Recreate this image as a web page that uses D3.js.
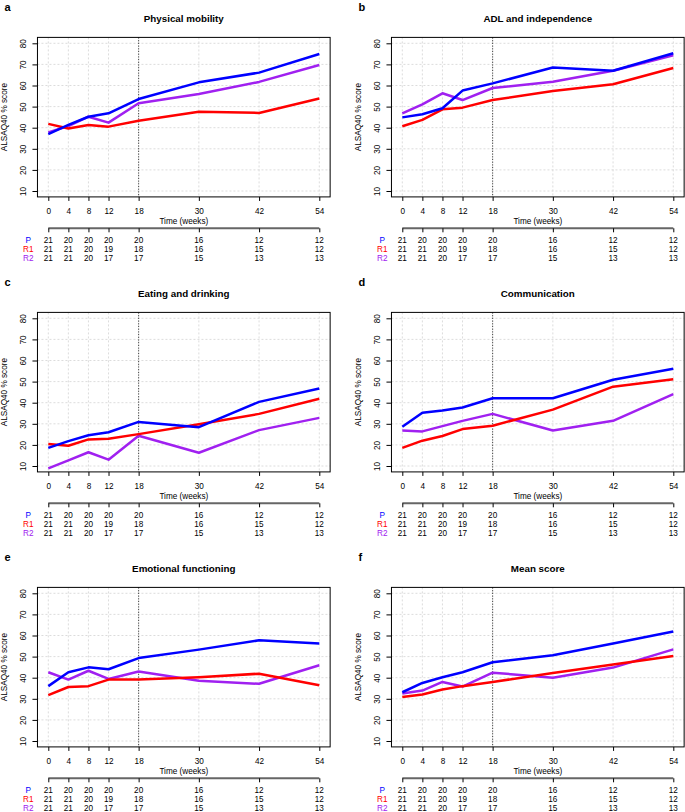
<!DOCTYPE html>
<html>
<head>
<meta charset="utf-8">
<script src="https://cdn.jsdelivr.net/npm/d3@7"></script>
<style>
  body { margin: 0; background: #fff; }
  svg { font-family: "Liberation Sans", Arial, sans-serif; }
</style>
</head>
<body>
<div id="chart"></div>
<script>
// time points (weeks)
const weeks = [0, 4, 8, 12, 18, 30, 42, 54];
const yTicks = [10, 20, 30, 40, 50, 60, 70, 80];

// numbers at risk
const groups = ["P", "R1", "R2"];
const atRiskP = [21, 20, 20, 20, 20, 16, 12, 12];
const atRiskR1 = [21, 21, 20, 19, 18, 16, 15, 12];
const atRiskR2 = [21, 21, 20, 17, 17, 15, 13, 13];

// a - physical mobility
const mobilityP = [37.0, 41.3, 45.2, 46.8, 53.6, 61.5, 66.1, 74.9];
const mobilityR1 = [41.8, 39.6, 41.3, 40.5, 43.3, 47.6, 47.0, 53.8];
const mobilityR2 = [37.8, 40.8, 45.2, 42.4, 51.6, 56.0, 61.7, 69.7];
// b - ADL and independence
const adlP = [44.9, 46.4, 49.2, 57.6, 61.0, 68.5, 67.0, 75.3];
const adlR1 = [40.7, 43.7, 48.7, 49.5, 53.1, 57.4, 60.6, 68.3];
const adlR2 = [46.8, 51.1, 56.3, 53.1, 58.8, 61.8, 67.0, 74.3];
// c - eating and drinking
const eatingP = [18.6, 21.8, 24.6, 26.0, 30.9, 28.4, 40.4, 46.7];
const eatingR1 = [20.4, 19.6, 22.6, 22.9, 25.1, 29.8, 34.7, 41.9];
const eatingR2 = [8.9, 12.7, 16.5, 13.0, 24.3, 16.3, 27.0, 32.8];
// d - communication
const commP = [28.6, 35.2, 36.3, 37.7, 42.1, 42.1, 50.9, 56.1];
const commR1 = [18.6, 22.0, 24.2, 27.5, 29.1, 36.7, 47.6, 51.1];
const commR2 = [26.8, 26.4, 28.9, 31.4, 34.7, 26.8, 31.4, 44.1];
// e - emotional functioning
const emoP = [36.0, 42.6, 44.9, 44.0, 49.3, 53.3, 57.7, 56.2];
const emoR1 = [31.7, 35.6, 36.0, 39.1, 39.1, 40.2, 41.9, 36.4];
const emoR2 = [42.6, 39.1, 43.3, 39.4, 42.9, 38.6, 37.1, 45.9];
// f - mean score
const meanP = [33.1, 37.5, 40.2, 42.6, 47.3, 50.6, 56.2, 61.9];
const meanR1 = [30.8, 32.0, 34.4, 36.0, 38.0, 42.2, 46.3, 50.3];
const meanR2 = [32.5, 33.9, 38.0, 35.8, 42.4, 40.0, 44.8, 53.4];

const panels = [
  {letter: "a", title: "Physical mobility", series: [mobilityR2, mobilityR1, mobilityP]},
  {letter: "b", title: "ADL and independence", series: [adlR2, adlR1, adlP]},
  {letter: "c", title: "Eating and drinking", series: [eatingR2, eatingR1, eatingP]},
  {letter: "d", title: "Communication", series: [commR2, commR1, commP]},
  {letter: "e", title: "Emotional functioning", series: [emoR2, emoR1, emoP]},
  {letter: "f", title: "Mean score", series: [meanR2, meanR1, meanP]}
];
const seriesColors = ["#A020F0", "#FF0000", "#0000FF"]; // R2, R1, P
const groupColors = {P: "#0000FF", R1: "#FF0000", R2: "#A020F0"};
const atRisk = {P: atRiskP, R1: atRiskR1, R2: atRiskR2};

const width = 685, height = 812;
const fs = 8.2;
const svg = d3.select("#chart").append("svg")
    .attr("width", width)
    .attr("height", height);

const xScale = d3.scaleLinear().domain([0, 54]).range([48.3, 319.3]);
const yScale = d3.scaleLinear().domain([10, 80]).range([191, 43.3]);
const boxL = xScale(-2.16), boxR = xScale(56.16);
const boxT = yScale(82.8), boxB = yScale(7.2);

const line = d3.line()
    .x(function(d, i) { return xScale(weeks[i]); })
    .y(function(d) { return yScale(d); });

panels.forEach(function(p, k) {
    const col = k % 2, row = Math.floor(k / 2);
    const g = svg.append("g")
        .attr("transform", `translate(${col * 354},${row * 275})`);

    // panel letter + title
    g.append("text").attr("x", 4.5).attr("y", 11)
        .attr("font-size", 11).attr("font-weight", "bold").text(p.letter);
    g.append("text").attr("x", (boxL + boxR) / 2).attr("y", 21.8)
        .attr("text-anchor", "middle").attr("font-size", 9.8)
        .attr("font-weight", "bold").text(p.title);

    // grid
    g.selectAll(".gx").data(weeks).enter().append("line")
        .attr("x1", d => xScale(d)).attr("x2", d => xScale(d))
        .attr("y1", boxT).attr("y2", boxB)
        .attr("stroke", "#d3d3d3").attr("stroke-width", 0.8)
        .attr("stroke-dasharray", "2,2");
    g.selectAll(".gy").data(yTicks).enter().append("line")
        .attr("x1", boxL).attr("x2", boxR)
        .attr("y1", d => yScale(d)).attr("y2", d => yScale(d))
        .attr("stroke", "#d3d3d3").attr("stroke-width", 0.8)
        .attr("stroke-dasharray", "2,2");

    // week 18 marker
    g.append("line")
        .attr("x1", xScale(18)).attr("x2", xScale(18))
        .attr("y1", boxT).attr("y2", boxB)
        .attr("stroke", "#444").attr("stroke-width", 1)
        .attr("stroke-dasharray", "1.2,1.5");

    // lines
    p.series.forEach(function(s, i) {
        g.append("path").datum(s)
            .attr("d", line)
            .attr("fill", "none")
            .attr("stroke", seriesColors[i])
            .attr("stroke-width", 2.5)
            .attr("stroke-linejoin", "round");
    });

    // box
    g.append("rect").attr("x", boxL).attr("y", boxT)
        .attr("width", boxR - boxL).attr("height", boxB - boxT)
        .attr("fill", "none").attr("stroke", "#000").attr("stroke-width", 1);

    // axes
    const xAxis = g.append("g")
        .attr("transform", `translate(0,${boxB})`)
        .call(d3.axisBottom(xScale).tickValues(weeks).tickSize(4).tickPadding(7));
    xAxis.select(".domain").remove();
    xAxis.selectAll("text").attr("font-size", fs).attr("fill", "#000")
        .attr("font-family", "Liberation Sans, Arial, sans-serif");

    const yAxis = g.append("g")
        .attr("transform", `translate(${boxL},0)`)
        .call(d3.axisLeft(yScale).tickValues(yTicks).tickSize(5));
    yAxis.select(".domain").remove();
    yAxis.selectAll("text")
        .attr("font-size", fs).attr("fill", "#000")
        .attr("font-family", "Liberation Sans, Arial, sans-serif")
        .attr("x", 0).attr("dy", 0)
        .attr("text-anchor", "middle")
        .attr("transform", "translate(-11.5,0) rotate(-90)");

    g.append("text").attr("x", (boxL + boxR) / 2).attr("y", 223.7)
        .attr("text-anchor", "middle").attr("font-size", fs)
        .text("Time (weeks)");
    g.append("text")
        .attr("transform", `translate(6.5,${(boxT + boxB) / 2}) rotate(-90)`)
        .attr("text-anchor", "middle").attr("font-size", fs)
        .text("ALSAQ40 % score");

    // numbers at risk table
    const riskAxis = g.append("g")
        .attr("transform", "translate(0,228.3)")
        .call(d3.axisBottom(xScale).tickValues(weeks).tickSize(4).tickFormat(""));
    riskAxis.select(".domain").attr("stroke", "#666").attr("stroke-width", 2)
        .attr("d", `M${xScale(0)},0H${xScale(54)}`);

    groups.forEach(function(gr, r) {
        const yy = 242.8 + r * 9.2;
        g.append("text").attr("x", 28.3).attr("y", yy)
            .attr("text-anchor", "middle").attr("font-size", fs)
            .attr("fill", groupColors[gr]).text(gr);
        g.selectAll(".n" + gr).data(atRisk[gr]).enter().append("text")
            .attr("x", (d, i) => xScale(weeks[i])).attr("y", yy)
            .attr("text-anchor", "middle").attr("font-size", fs)
            .text(d => d);
    });
});
</script>
</body>
</html>
